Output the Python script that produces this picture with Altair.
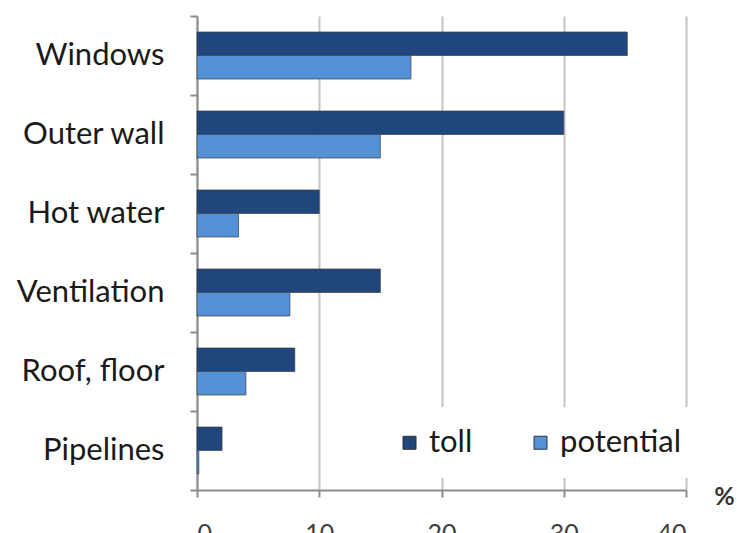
import altair as alt
import pandas as pd

categories = ["Windows", "Outer wall", "Hot water", "Ventilation", "Roof, floor", "Pipelines"]
toll = [35.2, 30.0, 10.0, 15.0, 8.0, 2.05]
potential = [17.5, 15.0, 3.4, 7.6, 4.0, 0.15]
series = ["toll", "potential"]
colors = ["#1F477D", "#5490D6"]
x_ticks = [0, 10, 20, 30, 40]

rows = []
for c, t, p in zip(categories, toll, potential):
    rows.append({"category": c, "series": "toll", "value": t})
    rows.append({"category": c, "series": "potential", "value": p})
df = pd.DataFrame(rows)

FONT = "Lato"

chart = alt.Chart(df).mark_bar(
    stroke="#404040", strokeWidth=1, strokeOpacity=0.7
).encode(
    y=alt.Y("category:N", sort=categories,
            scale=alt.Scale(paddingInner=0, paddingOuter=0),
            axis=alt.Axis(title=None, tickBand="extent", labelFontSize=31,
                          labelFont=FONT, labelColor="#1a1a1a", labelPadding=26,
                          tickSize=7, tickColor="#8C8C8C", tickWidth=2,
                          domainColor="#8C8C8C", domainWidth=2, grid=False,
                          labelAlign="right")),
    yOffset=alt.YOffset("series:N", sort=series,
                        scale=alt.Scale(paddingInner=0, paddingOuter=0.68)),
    x=alt.X("value:Q", scale=alt.Scale(domain=[0, 40], nice=False),
            axis=alt.Axis(values=x_ticks, title="%", titleX=527, titleY=6,
                          titleAlign="center", titleBaseline="middle",
                          titleFontSize=25, titleFont=FONT, titleFontWeight="bold",
                          titleColor="#333333",
                          labelFontSize=25, labelFont=FONT, labelColor="#404040",
                          labelPadding=24, tickSize=7, tickColor="#8C8C8C",
                          tickWidth=2, domainColor="#8C8C8C", domainWidth=2,
                          grid=True, gridColor="#C4C4C4", gridWidth=2)),
    color=alt.Color("series:N", sort=series,
                    scale=alt.Scale(domain=series, range=colors),
                    legend=alt.Legend(title=None, orient="none", legendX=177,
                                      legendY=391, direction="horizontal",
                                      columns=2, columnPadding=52,
                                      fillColor="white", padding=20,
                                      labelFontSize=31, labelFont=FONT,
                                      labelColor="#1a1a1a", labelOffset=4,
                                      symbolType="square", symbolSize=169,
                                      symbolStrokeColor="#333333",
                                      symbolStrokeWidth=1, symbolOpacity=1)),
).properties(
    width=489, height=474,
    autosize=alt.AutoSizeParams(type="none"),
    padding={"left": 197, "top": 16, "right": 51, "bottom": 43},
).configure_view(stroke=None)

chart.save("out.html", embed_options={"renderer": "svg", "actions": False})
